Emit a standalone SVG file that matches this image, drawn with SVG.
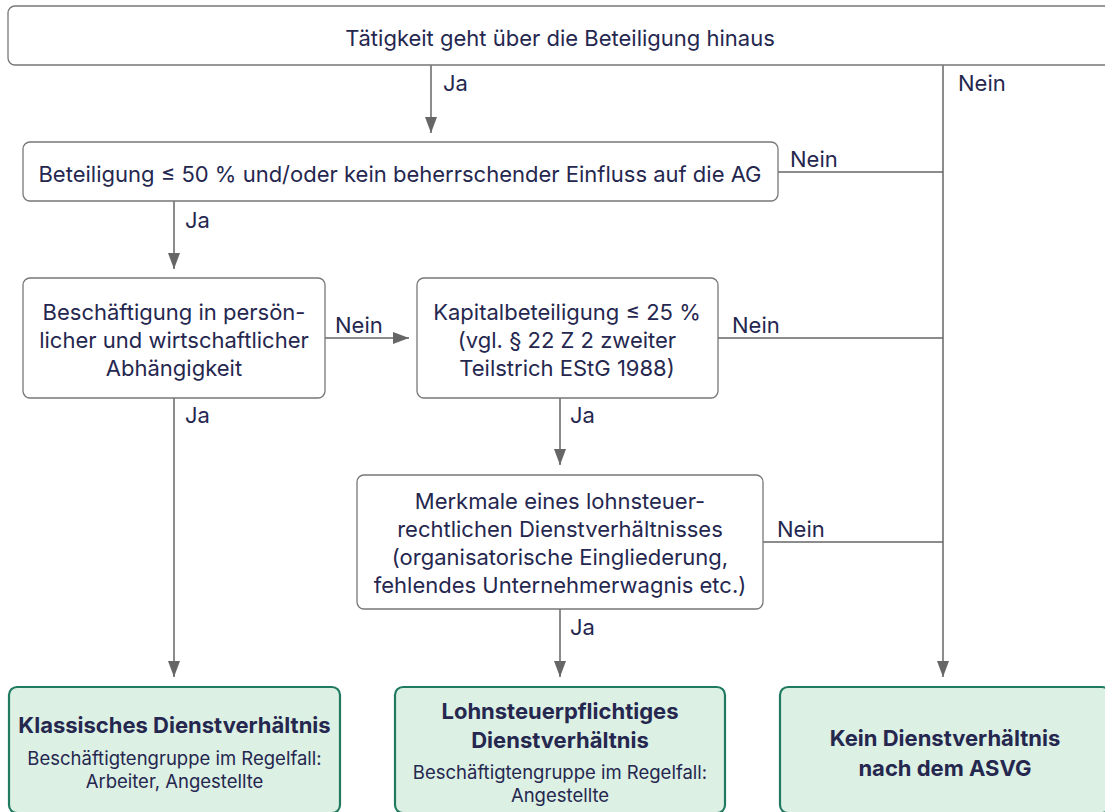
<svg xmlns="http://www.w3.org/2000/svg" width="1105" height="812" viewBox="0 0 1105 812">
<defs>
<marker id="arr" viewBox="0 0 16 12" refX="16" refY="6" markerWidth="16" markerHeight="12" markerUnits="userSpaceOnUse" orient="auto">
<path d="M0,0 L16,6 L0,12 Z" fill="#666666"/>
</marker>
</defs>
<style>
text{font-family:Inter,"Open Sans","Liberation Sans",sans-serif;fill:#25274f;}
.t{font-size:22px;text-anchor:middle;}
.l{font-size:22px;}
.b{font-size:22px;font-weight:700;text-anchor:middle;}
.s{font-size:18.5px;text-anchor:middle;}
.box{fill:#ffffff;stroke:#777777;stroke-width:1.3;}
.res{fill:#dcf0e4;stroke:#1f7a5f;stroke-width:2.2;}
.c{fill:none;stroke:#666666;stroke-width:1.5;}
.ca{fill:none;stroke:#666666;stroke-width:1.5;marker-end:url(#arr);}
</style>
<rect width="1105" height="812" fill="#ffffff"/>
<g id="connectors">
<line class="ca" x1="431" y1="65" x2="431" y2="133"/>
<line class="ca" x1="943" y1="65" x2="943" y2="677"/>
<line class="c" x1="778" y1="172" x2="943" y2="172"/>
<line class="ca" x1="174" y1="201" x2="174" y2="269"/>
<line class="ca" x1="325" y1="338" x2="409" y2="338"/>
<line class="c" x1="718" y1="338" x2="943" y2="338"/>
<line class="ca" x1="560" y1="398" x2="560" y2="465"/>
<line class="c" x1="763" y1="542" x2="943" y2="542"/>
<line class="ca" x1="560" y1="609" x2="560" y2="677"/>
<line class="ca" x1="174" y1="398" x2="174" y2="677"/>
<text class="l" x="443" y="91">Ja</text>
<text class="l" x="958" y="91">Nein</text>
<text class="l" x="790" y="167">Nein</text>
<text class="l" x="185" y="228">Ja</text>
<text class="l" x="335" y="333">Nein</text>
<text class="l" x="732" y="333">Nein</text>
<text class="l" x="570" y="423">Ja</text>
<text class="l" x="185" y="423">Ja</text>
<text class="l" x="777" y="537">Nein</text>
<text class="l" x="570" y="635">Ja</text>
</g>
<g id="n1">
<rect class="box" x="8" y="6" width="1110" height="59" rx="7"/>
<text class="t" x="560" y="46">Tätigkeit geht über die Beteiligung hinaus</text>
</g>
<g id="n2">
<rect class="box" x="23" y="142" width="755" height="59" rx="7"/>
<text class="t" x="400" y="182">Beteiligung ≤ 50 % und/oder kein beherrschender Einfluss auf die AG</text>
</g>
<g id="n3">
<rect class="box" x="23" y="278" width="302" height="120" rx="7"/>
<text class="t" x="174" y="320">Beschäftigung in persön-</text>
<text class="t" x="174" y="348">licher und wirtschaftlicher</text>
<text class="t" x="174" y="376">Abhängigkeit</text>
</g>
<g id="n4">
<rect class="box" x="417" y="278" width="301" height="120" rx="7"/>
<text class="t" x="567" y="320">Kapitalbeteiligung ≤ 25 %</text>
<text class="t" x="567" y="348">(vgl. § 22 Z 2 zweiter</text>
<text class="t" x="567" y="376">Teilstrich EStG 1988)</text>
</g>
<g id="n5">
<rect class="box" x="357" y="475" width="406" height="134" rx="7"/>
<text class="t" x="560" y="509">Merkmale eines lohnsteuer-</text>
<text class="t" x="560" y="537">rechtlichen Dienstverhältnisses</text>
<text class="t" x="560" y="565">(organisatorische Eingliederung,</text>
<text class="t" x="560" y="593">fehlendes Unternehmerwagnis etc.)</text>
</g>
<g id="r1">
<rect class="res" x="9" y="687" width="331" height="126" rx="8"/>
<text class="b" x="174.5" y="733">Klassisches Dienstverhältnis</text>
<text class="s" x="174.5" y="765">Beschäftigtengruppe im Regelfall:</text>
<text class="s" x="174.5" y="788">Arbeiter, Angestellte</text>
</g>
<g id="r2">
<rect class="res" x="395" y="687" width="330" height="126" rx="8"/>
<text class="b" x="560" y="719">Lohnsteuerpflichtiges</text>
<text class="b" x="560" y="748">Dienstverhältnis</text>
<text class="s" x="560" y="779">Beschäftigtengruppe im Regelfall:</text>
<text class="s" x="560" y="802">Angestellte</text>
</g>
<g id="r3">
<rect class="res" x="780" y="687" width="330" height="126" rx="8"/>
<text class="b" x="945" y="746">Kein Dienstverhältnis</text>
<text class="b" x="945" y="776">nach dem ASVG</text>
</g>
</svg>
